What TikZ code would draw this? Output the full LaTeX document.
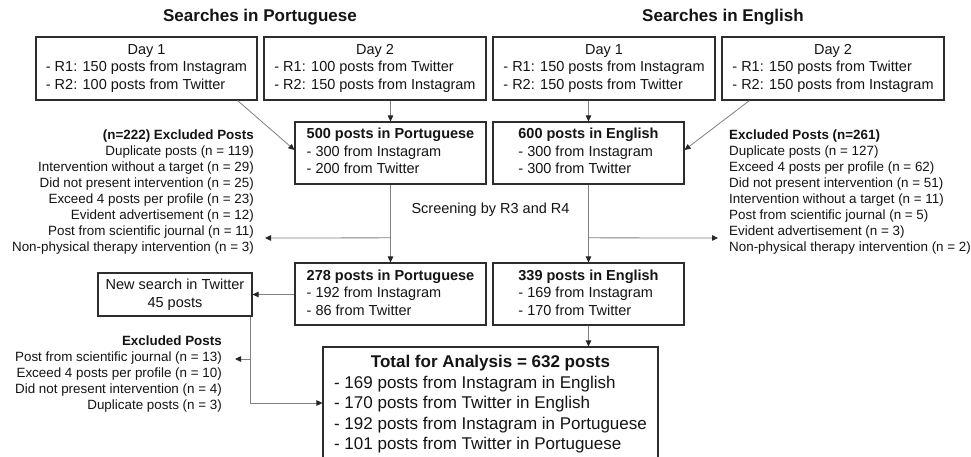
\documentclass[tikz,border=0pt]{standalone}
\usepackage{fontspec}
\setmainfont{Liberation Sans}
\usetikzlibrary{arrows.meta,calc}
\definecolor{boxline}{RGB}{45,45,45}
\definecolor{conn}{RGB}{128,128,128}
\definecolor{txt}{RGB}{20,20,20}
\tikzset{
  stagebox/.style={draw=boxline, line width=1.1pt, rectangle, inner sep=0pt, text=txt,
    font=\fontsize{14.5}{17.5}\selectfont},
  listtxt/.style={inner sep=0pt, text=txt, font=\fontsize{13.4}{16}\selectfont},
  titletxt/.style={inner sep=0pt, text=txt, font=\fontsize{17}{20}\selectfont\bfseries},
  conline/.style={draw=conn, line width=0.8pt},
  arr/.style={conline, -{Triangle[length=6pt,width=5.5pt,color=black!85]}},
}
\begin{document}
\begin{tikzpicture}[x=1pt,y=-1pt]
\useasboundingbox (0,0) rectangle (971,457);
\clip (0,0) rectangle (971,457);
\fill[white] (0,0) rectangle (971,457);

% titles
\node[titletxt] (tpt) at (260,17) {Searches in Portuguese};
\node[titletxt] (ten) at (723,17) {Searches in English};

% day boxes
\node[stagebox, minimum width=221pt, minimum height=63pt] (pd1) at (146.5,68.5)
  {\begin{tabular}{@{}l@{}}\multicolumn{1}{@{}c@{}}{Day 1}\\- R1: 150 posts from Instagram\\- R2: 100 posts from Twitter\end{tabular}};
\node[stagebox, minimum width=222pt, minimum height=63pt] (pd2) at (375,68.5)
  {\begin{tabular}{@{}l@{}}\multicolumn{1}{@{}c@{}}{Day 2}\\- R1: 100 posts from Twitter\\- R2: 150 posts from Instagram\end{tabular}};
\node[stagebox, minimum width=222pt, minimum height=63pt] (ed1) at (604,68.5)
  {\begin{tabular}{@{}l@{}}\multicolumn{1}{@{}c@{}}{Day 1}\\- R1: 150 posts from Instagram\\- R2: 150 posts from Twitter\end{tabular}};
\node[stagebox, minimum width=222pt, minimum height=63pt] (ed2) at (833,68.5)
  {\begin{tabular}{@{}l@{}}\multicolumn{1}{@{}c@{}}{Day 2}\\- R1: 150 posts from Twitter\\- R2: 150 posts from Instagram\end{tabular}};

% merged boxes
\node[stagebox, minimum width=191pt, minimum height=62pt] (p500) at (390.5,153)
  {\begin{tabular}{@{}l@{}}\multicolumn{1}{@{}c@{}}{\bfseries 500 posts in Portuguese}\\- 300 from Instagram\\- 200 from Twitter\end{tabular}};
\node[stagebox, minimum width=191pt, minimum height=62pt] (e600) at (588.5,153)
  {\begin{tabular}{@{}l@{}}\multicolumn{1}{@{}c@{}}{\bfseries 600 posts in English}\\- 300 from Instagram\\- 300 from Twitter\end{tabular}};

% screened boxes
\node[stagebox, minimum width=191pt, minimum height=62pt] (p278) at (390.5,294)
  {\begin{tabular}{@{}l@{}}\multicolumn{1}{@{}c@{}}{\bfseries 278 posts in Portuguese}\\- 192 from Instagram\\- 86 from Twitter\end{tabular}};
\node[stagebox, minimum width=191pt, minimum height=62pt] (e339) at (588.5,294)
  {\begin{tabular}{@{}l@{}}\multicolumn{1}{@{}c@{}}{\bfseries 339 posts in English}\\- 169 from Instagram\\- 170 from Twitter\end{tabular}};

\node[stagebox, minimum width=154pt, minimum height=43pt, align=center] (nsrch) at (175,294.5)
  {New search in Twitter\\45 posts};

% total
\node[stagebox, minimum width=335pt, minimum height=115pt, font=\fontsize{17}{20.5}\selectfont] (tot) at (490.5,404.5)
  {\begin{tabular}{@{}l@{}}\multicolumn{1}{@{}c@{}}{\bfseries Total for Analysis = 632 posts}\\- 169 posts from Instagram in English\\- 170 posts from Twitter in English\\- 192 posts from Instagram in Portuguese\\- 101 posts from Twitter in Portuguese\end{tabular}};

% screening label
\node[inner sep=0pt, text=txt, font=\fontsize{14.5}{17.5}\selectfont] (scr) at (490.5,210) {Screening by R3 and R4};

% exclusion lists
\node[listtxt, align=right, anchor=east] (xpt) at (254,192)
  {\bfseries (n=222) Excluded Posts\\
   Duplicate posts (n = 119)\\
   Intervention without a target (n = 29)\\
   Did not present intervention (n = 25)\\
   Exceed 4 posts per profile (n = 23)\\
   Evident advertisement (n = 12)\\
   Post from scientific journal (n = 11)\\
   Non-physical therapy intervention (n = 3)};
\node[listtxt, align=left, anchor=west] (xen) at (729,192)
  {\bfseries Excluded Posts (n=261)\\
   Duplicate posts (n = 127)\\
   Exceed 4 posts per profile (n = 62)\\
   Did not present intervention (n = 51)\\
   Intervention without a target (n = 11)\\
   Post from scientific journal (n = 5)\\
   Evident advertisement (n = 3)\\
   Non-physical therapy intervention (n = 2)};
\node[listtxt, align=right, anchor=east] (xns) at (222,374)
  {\bfseries Excluded Posts\\
   Post from scientific journal (n = 13)\\
   Exceed 4 posts per profile (n = 10)\\
   Did not present intervention (n = 4)\\
   Duplicate posts (n = 3)};

% connectors
\draw[arr] ($(pd1.south east)+(-20,0)$) -- ($(p500.west)+(0,-3)$);
\draw[arr] (p500.north |- pd2.south) -- (p500.north);
\draw[arr] (e600.north |- ed1.south) -- (e600.north);
\draw[arr] ($(ed2.south west)+(28,0)$) -- ($(e600.east)+(0,-3)$);

\draw[arr] (p500.south) -- (p278.north);
\coordinate (pbr) at ($(p500.south)!0.684!(p278.north)$);
\coordinate (ptip) at (265,238);
\draw[arr] (pbr) -- (ptip);
\draw[arr] (e600.south) -- (e339.north);
\coordinate (ebr) at ($(e600.south)!0.684!(e339.north)$);
\coordinate (etip) at (718,238);
\draw[arr] (ebr) -- (etip);

\draw[arr] (p278.west |- nsrch.east) -- (nsrch.east);
\coordinate (nsb) at ($(nsrch.south east)+(-2,0)$);
\coordinate (totin) at (tot.west |- 0,403);
\draw[arr] (nsb) |- (totin);
\coordinate (nsbr) at (nsb |- 0,359);
\coordinate (nstip) at (235,359);
\draw[arr] (nsbr) -- (nstip);
\draw[arr] (e339.south) -- (tot.north -| e339.south);
\end{tikzpicture}
\end{document}
